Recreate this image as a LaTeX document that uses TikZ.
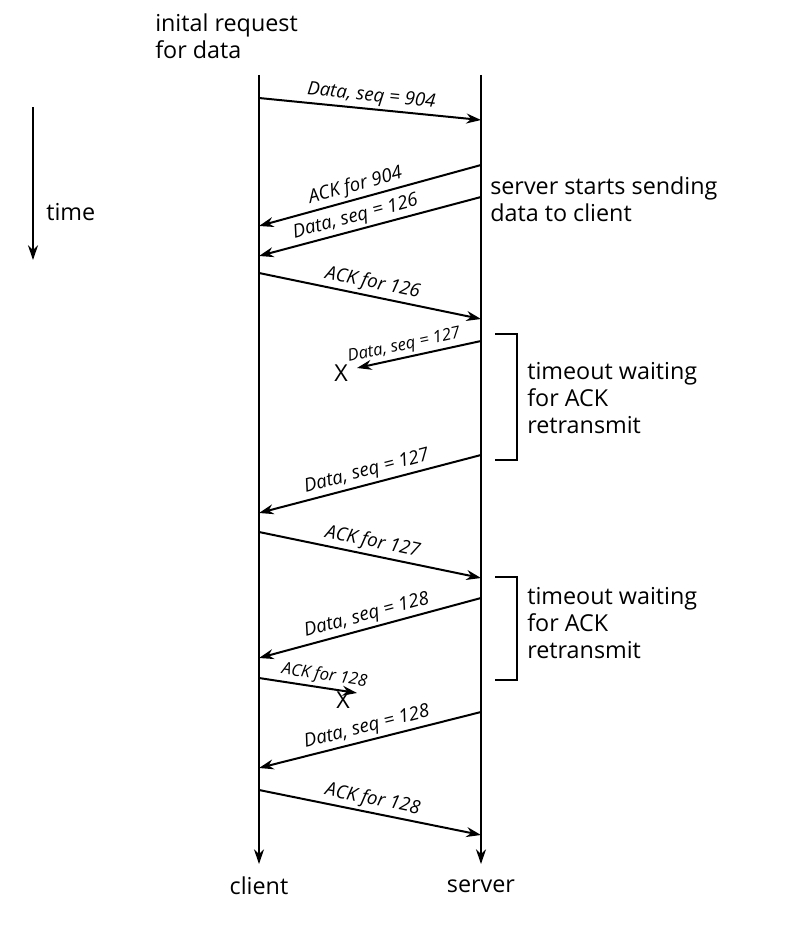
\documentclass[tikz,border=0pt]{standalone}
\usepackage{fontspec}
\setmainfont{Open Sans}
\usetikzlibrary{arrows.meta}
\begin{document}
\begin{tikzpicture}[x=0.75pt,y=-0.75pt,
  msg/.style={-{Stealth[length=11pt,width=7.5pt]},line width=1.5pt},
  lab/.style={font=\fontsize{14}{16}\selectfont\itshape,sloped,above,inner sep=2pt},
  small/.style={font=\fontsize{12.5}{14}\selectfont\itshape},
  big/.style={font=\fontsize{17.5}{20}\selectfont,align=left,inner sep=0pt},
  brk/.style={line width=1.1pt}]
\useasboundingbox (0,0) rectangle (785,942);
\coordinate (ct) at (259,75); \coordinate (cb) at (259,864);
\coordinate (st) at (481,75); \coordinate (sb) at (481,864);
\draw[msg] (ct) -- (cb);
\draw[msg] (st) -- (sb);
\node[big] (cl) at (259,886) {client};
\node[big] (sv) at (481,886) {server};
\coordinate (t1) at (33,107); \coordinate (t2) at (33,260);
\draw[msg] (t1) -- (t2);
\node[big,anchor=west] (tm) at (46,212) {time};
\node[big,anchor=north west] (ir) at (155,14) {inital request\\for data};
\node[big,anchor=west] (ss) at (490,199) {server starts sending\\data to client};
% messages
\coordinate (a1) at (259,98); \coordinate (b1) at (481,120);
\draw[msg] (a1) -- node[lab] {Data, seq = 904} (b1);
\coordinate (a2) at (481,165); \coordinate (b2) at (259,226);
\draw[msg] (a2) -- node[lab,pos=0.55] {ACK for 904} (b2);
\coordinate (a3) at (481,197); \coordinate (b3) at (259,256);
\draw[msg] (a3) -- node[lab,pos=0.55] {Data, seq = 126} (b3);
\coordinate (a4) at (259,273); \coordinate (b4) at (481,319);
\draw[msg] (a4) -- node[lab] {ACK for 126} (b4);
\coordinate (a5) at (481,341); \coordinate (b5) at (357,368);
\draw[msg] (a5) -- node[lab,small,pos=0.6] {Data, seq = 127} (b5);
\node[big] (x1) at (341,373) {X};
\coordinate (a6) at (481,455); \coordinate (b6) at (259,513);
\draw[msg] (a6) -- node[lab] {Data, seq = 127} (b6);
\coordinate (a7) at (259,532); \coordinate (b7) at (481,578);
\draw[msg] (a7) -- node[lab] {ACK for 127} (b7);
\coordinate (a8) at (481,598); \coordinate (b8) at (259,658);
\draw[msg] (a8) -- node[lab] {Data, seq = 128} (b8);
\coordinate (a9) at (259,678); \coordinate (b9) at (357,693);
\draw[msg] (a9) -- node[lab,small,pos=0.65] {ACK for 128} (b9);
\node[big] (x2) at (343,700) {X};
\coordinate (a10) at (481,712); \coordinate (b10) at (259,768);
\draw[msg] (a10) -- node[lab] {Data, seq = 128} (b10);
\coordinate (a11) at (259,790); \coordinate (b11) at (481,835);
\draw[msg] (a11) -- node[lab] {ACK for 128} (b11);
% brackets
\draw[brk] (495,334) -- (517,334) -- (517,460) -- (495,460);
\draw[brk] (495,577) -- (517,577) -- (517,680) -- (495,680);
\node[big,anchor=west] (to1) at (527,398) {timeout waiting\\for ACK\\retransmit};
\node[big,anchor=west] (to2) at (527,623) {timeout waiting\\for ACK\\retransmit};
\end{tikzpicture}
\end{document}
